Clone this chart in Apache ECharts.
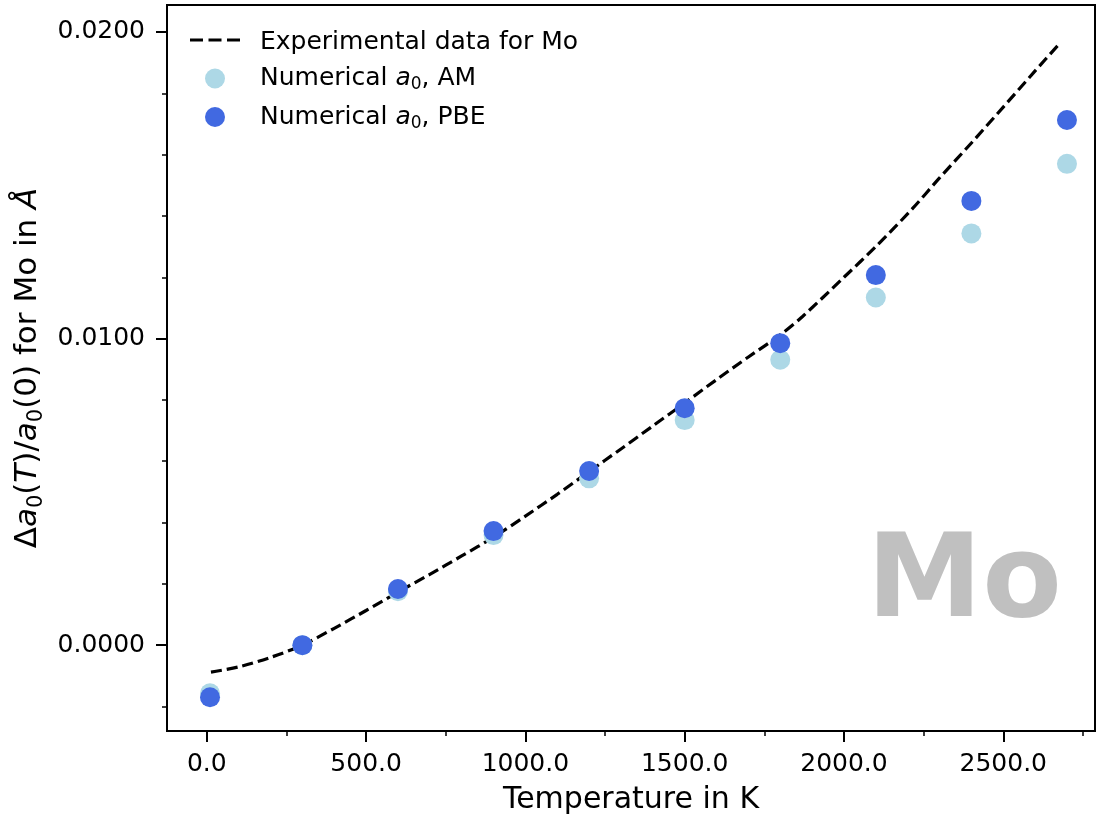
<!DOCTYPE html>
<html>
<head>
<meta charset="utf-8">
<script src="https://cdn.jsdelivr.net/npm/echarts@6/dist/echarts.min.js"></script>
<style>
html,body{margin:0;padding:0;background:#fff;}
#chart{width:1098px;height:816px;}
</style>
</head>
<body>
<div id="chart"></div>
<script>
// ---- data ----
const expT   = [13, 100, 200, 300, 400, 500, 600, 700, 800, 900, 1000, 1100, 1200, 1300, 1400, 1500, 1600, 1700, 1800, 1870, 2000, 2100, 2217, 2300, 2400, 2500, 2600, 2680];
const expVal = [-0.00088, -0.00071, -0.00040, 0.00000, 0.00055, 0.00113, 0.00173, 0.00231, 0.00291, 0.00352, 0.00421, 0.00492, 0.00566, 0.00640, 0.00715, 0.00790, 0.00866, 0.00940, 0.01012, 0.01072, 0.01200, 0.01300, 0.01426, 0.01524, 0.01638, 0.01755, 0.01873, 0.01966];
const numT   = [10, 300, 600, 900, 1200, 1500, 1800, 2100, 2400, 2700];
const amVal  = [-0.00157, 0.0, 0.00176, 0.00359, 0.00544, 0.00734, 0.00931, 0.01134, 0.01343, 0.01570];
const pbeVal = [-0.00170, 0.0, 0.00183, 0.00372, 0.00568, 0.00773, 0.00985, 0.01207, 0.01449, 0.01713];
const xMajorTicks = [0, 500, 1000, 1500, 2000, 2500];
const xMinorTicks = [250, 750, 1250, 1750, 2250, 2750];
const yMajorTicks = [0, 0.01, 0.02];
const yMinorTicks = [-0.002, 0.002, 0.004, 0.006, 0.008, 0.012, 0.014, 0.016, 0.018];

const FONT = 'DejaVu Sans';
const chart = echarts.init(document.getElementById('chart'), null, {renderer: 'canvas'});

const zip = (a, b) => a.map((v, i) => [v, b[i]]);

const rich = {
  n: {fontFamily: FONT, fontSize: 25, color: '#000', lineHeight: 30},
  i: {fontFamily: FONT, fontSize: 25, color: '#000', fontStyle: 'italic', lineHeight: 30},
  s: {fontFamily: FONT, fontSize: 17, color: '#000', lineHeight: 17, verticalAlign: 'bottom'}
};
const richY = {
  n: {fontFamily: FONT, fontSize: 31, color: '#000', lineHeight: 38},
  i: {fontFamily: FONT, fontSize: 31, color: '#000', fontStyle: 'italic', lineHeight: 38},
  s: {fontFamily: FONT, fontSize: 21, color: '#000', lineHeight: 21, verticalAlign: 'bottom'}
};

const axisLineStyle = {color: '#000', width: 2};

chart.setOption({
  animation: false,
  backgroundColor: '#fff',
  grid: {left: 167, right: 3, top: 5, bottom: 85, show: true, borderColor: '#000', borderWidth: 2, outerBoundsMode: 'none'},
  legend: {
    left: 190, top: 30, orient: 'vertical', padding: 0,
    itemWidth: 50, itemHeight: 20, itemGap: 11,
    data: [
      {name: 'Experimental data for Mo', icon: 'rect', itemStyle: {opacity: 0}, lineStyle: {opacity: 0}},
      'AM', 'PBE'
    ],
    formatter: function (name) {
      if (name === 'AM') return '{n|Numerical }{i|a}{s|0}{n|, AM}';
      if (name === 'PBE') return '{n|Numerical }{i|a}{s|0}{n|, PBE}';
      return '{n|' + name + '}';
    },
    textStyle: {fontFamily: FONT, fontSize: 25, color: '#000', padding: [0, 0, 0, 15], rich: rich}
  },
  xAxis: [{
    type: 'value', min: -125, max: 2788,
    name: 'Temperature in K', nameLocation: 'middle', nameGap: 54,
    nameTextStyle: {fontFamily: FONT, fontSize: 30, color: '#000'},
    axisLine: {show: true, onZero: false, lineStyle: axisLineStyle},
    axisTick: {show: true, inside: false, length: 11, lineStyle: {color: '#000', width: 2}, customValues: xMajorTicks},
    axisLabel: {show: true, margin: 21, fontFamily: FONT, fontSize: 25, color: '#000', customValues: xMajorTicks,
      formatter: v => v.toFixed(1)},
    splitLine: {show: false}
  }, {
    type: 'value', min: -125, max: 2788, position: 'bottom',
    axisLine: {show: false, onZero: false},
    axisTick: {show: true, inside: false, length: 5, lineStyle: {color: '#000', width: 1.5}, customValues: xMinorTicks},
    axisLabel: {show: false},
    splitLine: {show: false}
  }],
  yAxis: [{
    type: 'value', min: -0.0028, max: 0.02088,
    name: '{n|Δ}{i|a}{s|0}{n|(}{i|T}{n|)/}{i|a}{s|0}{n|(0) for Mo in }{i|Å}',
    nameLocation: 'middle', nameGap: 119, nameRotate: 90,
    nameTextStyle: {fontFamily: FONT, fontSize: 31, color: '#000', rich: richY},
    axisLine: {show: true, onZero: false, lineStyle: axisLineStyle},
    axisTick: {show: true, inside: false, length: 11, lineStyle: {color: '#000', width: 2}, customValues: yMajorTicks},
    axisLabel: {show: true, margin: 22, fontFamily: FONT, fontSize: 25, color: '#000', customValues: yMajorTicks,
      formatter: v => v.toFixed(4)},
    splitLine: {show: false}
  }, {
    type: 'value', min: -0.0028, max: 0.02088, position: 'left',
    axisLine: {show: false, onZero: false},
    axisTick: {show: true, inside: false, length: 5, lineStyle: {color: '#000', width: 1.5}, customValues: yMinorTicks},
    axisLabel: {show: false},
    splitLine: {show: false}
  }],
  graphic: [{
    type: 'text', right: 36, top: 528, z: 0,
    style: {text: 'Mo', fontFamily: FONT, fontWeight: 'bold', fontSize: 116, fill: '#c0c0c0'}
  }, {
    type: 'line', z: 10,
    shape: {x1: 190, y1: 40, x2: 240, y2: 40},
    style: {stroke: '#000', lineWidth: 3.2, lineDash: [13, 5.5]}
  }],
  series: [{
    name: 'Experimental data for Mo', type: 'line', xAxisIndex: 0, yAxisIndex: 0,
    data: zip(expT, expVal), smooth: 0.3, symbol: 'none',
    lineStyle: {color: '#000', width: 3.2, type: [11, 5]},
    itemStyle: {color: '#000'}, z: 2
  }, {
    name: 'AM', type: 'scatter', xAxisIndex: 0, yAxisIndex: 0,
    data: zip(numT, amVal), symbol: 'circle', symbolSize: 20,
    itemStyle: {color: '#add8e6', opacity: 1}, z: 3
  }, {
    name: 'PBE', type: 'scatter', xAxisIndex: 0, yAxisIndex: 0,
    data: zip(numT, pbeVal), symbol: 'circle', symbolSize: 20,
    itemStyle: {color: '#4169e1', opacity: 1}, z: 4
  }]
});
</script>
</body>
</html>
